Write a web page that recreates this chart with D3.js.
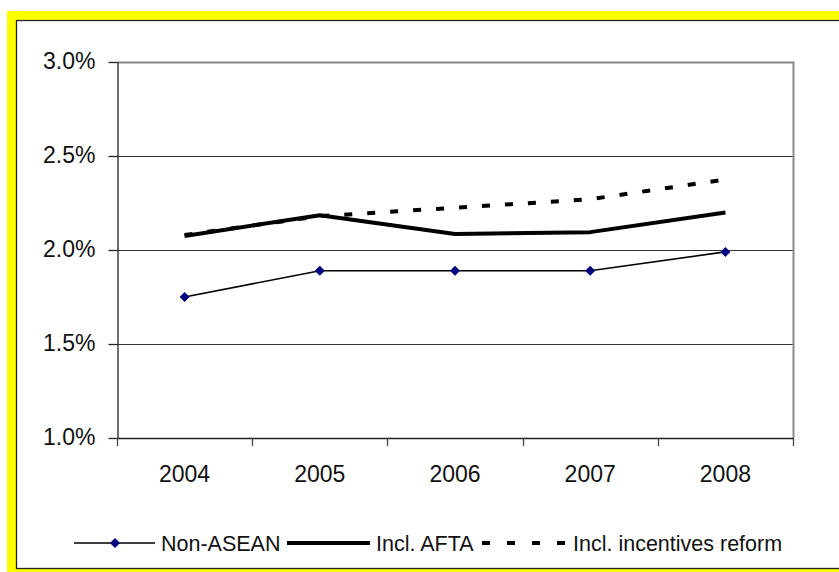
<!DOCTYPE html>
<html>
<head>
<meta charset="utf-8">
<script src="https://cdn.jsdelivr.net/npm/d3@7"></script>
<style>
  html, body { margin: 0; padding: 0; background: #fff; }
  svg { display: block; font-family: "Liberation Sans", Arial, sans-serif; }
</style>
</head>
<body>
<svg id="chart" width="839" height="572"></svg>
<script>
// Years on the category axis
const years = ["2004", "2005", "2006", "2007", "2008"];
// Series values, in percent
const nonAsean = [1.75, 1.89, 1.89, 1.89, 1.99];
const inclAfta = [2.075, 2.185, 2.085, 2.095, 2.20];
const inclIncentives = [2.08, 2.18, 2.225, 2.27, 2.375];
// Value axis ticks
const yTicks = [1.0, 1.5, 2.0, 2.5, 3.0];
const seriesNames = ["Non-ASEAN", "Incl. AFTA", "Incl. incentives reform"];

const svg = d3.select("#chart");

// Yellow frame with a dark inner rule
svg.append("rect").attr("x", 7).attr("y", 11).attr("width", 840).attr("height", 570).attr("fill", "#ffff00");
svg.append("rect").attr("x", 16.5).attr("y", 20.5).attr("width", 840).attr("height", 548)
  .attr("fill", "#fff").attr("stroke", "#222").attr("stroke-width", 1.3);

const plot = { left: 117, right: 793, top: 62, bottom: 438 };

const x = d3.scaleBand().domain(years).range([plot.left, plot.right]).padding(0);
const y = d3.scaleLinear().domain([1.0, 3.0]).range([plot.bottom, plot.top]);
const cx = d => x(d) + x.bandwidth() / 2;

// Horizontal gridlines
svg.append("g").selectAll("line").data(yTicks.filter(t => t > 1.0 && t < 3.0)).join("line")
  .attr("x1", plot.left).attr("x2", plot.right)
  .attr("y1", d => Math.round(y(d)) + 0.5).attr("y2", d => Math.round(y(d)) + 0.5)
  .attr("stroke", "#333").attr("stroke-width", 1);

// Plot-area frame: top and right in grey
svg.append("path")
  .attr("d", `M${plot.left},${plot.top + 0.5}H${plot.right + 0.5}V${plot.bottom}`)
  .attr("fill", "none").attr("stroke", "#888").attr("stroke-width", 2);

// Value axis
const yAxis = d3.axisLeft(y).tickValues(yTicks).tickFormat(d => d.toFixed(1) + "%")
  .tickSizeOuter(0).tickSizeInner(9).tickPadding(13);
const gy = svg.append("g").attr("transform", `translate(${plot.left + 0.5},0)`).call(yAxis);
gy.select(".domain").attr("stroke", "#222").attr("stroke-width", 1.3);
gy.selectAll(".tick line").attr("stroke", "#222").attr("stroke-width", 1.3);
gy.selectAll(".tick text").attr("font-size", 23).attr("fill", "#111")
  .attr("font-family", "Liberation Sans, Arial, sans-serif").attr("dy", "0.3em");

// Category axis with ticks on band boundaries
svg.append("line").attr("x1", plot.left).attr("x2", plot.right)
  .attr("y1", plot.bottom + 0.5).attr("y2", plot.bottom + 0.5)
  .attr("stroke", "#222").attr("stroke-width", 1.3);
const bounds = years.map(d => x(d)).concat([plot.right]);
svg.append("g").selectAll("line").data(bounds).join("line")
  .attr("x1", d => Math.round(d) + 0.5).attr("x2", d => Math.round(d) + 0.5)
  .attr("y1", plot.bottom).attr("y2", plot.bottom + 8)
  .attr("stroke", "#444").attr("stroke-width", 1.3);
svg.append("g").selectAll("text").data(years).join("text")
  .attr("x", d => cx(d)).attr("y", 482)
  .attr("text-anchor", "middle").attr("font-size", 23).attr("fill", "#111")
  .text(d => d);

// Lines
const lineGen = d3.line().x((d, i) => cx(years[i])).y(d => y(d));

svg.append("path").datum(inclIncentives).attr("d", lineGen)
  .attr("fill", "none").attr("stroke", "#000").attr("stroke-width", 4)
  .attr("stroke-dasharray", "8,15");

svg.append("path").datum(inclAfta).attr("d", lineGen)
  .attr("fill", "none").attr("stroke", "#000").attr("stroke-width", 4)
  .attr("stroke-linejoin", "round");

svg.append("path").datum(nonAsean).attr("d", lineGen)
  .attr("fill", "none").attr("stroke", "#000").attr("stroke-width", 1.6);

// Square diamond marker, 10 px across
const diamond = "M0,-5L5,0L0,5L-5,0Z";
svg.append("g").selectAll("path").data(nonAsean).join("path")
  .attr("d", diamond)
  .attr("transform", (d, i) => `translate(${cx(years[i])},${y(d)})`)
  .attr("fill", "#000080");

// Legend
const legY = 543;
const leg = svg.append("g");
leg.append("line").attr("x1", 74).attr("x2", 155).attr("y1", legY).attr("y2", legY)
  .attr("stroke", "#000").attr("stroke-width", 1.6);
leg.append("path").attr("d", diamond).attr("transform", `translate(115,${legY})`).attr("fill", "#000080");
leg.append("line").attr("x1", 287).attr("x2", 370).attr("y1", legY).attr("y2", legY)
  .attr("stroke", "#000").attr("stroke-width", 4);
leg.append("line").attr("x1", 482).attr("x2", 567).attr("y1", legY).attr("y2", legY)
  .attr("stroke", "#000").attr("stroke-width", 4).attr("stroke-dasharray", "8,17");
const legText = [[161, seriesNames[0]], [376, seriesNames[1]], [573, seriesNames[2]]];
leg.selectAll("text").data(legText).join("text")
  .attr("x", d => d[0]).attr("y", legY + 8)
  .attr("font-size", 21.5).attr("fill", "#111")
  .text(d => d[1]);
</script>
</body>
</html>
